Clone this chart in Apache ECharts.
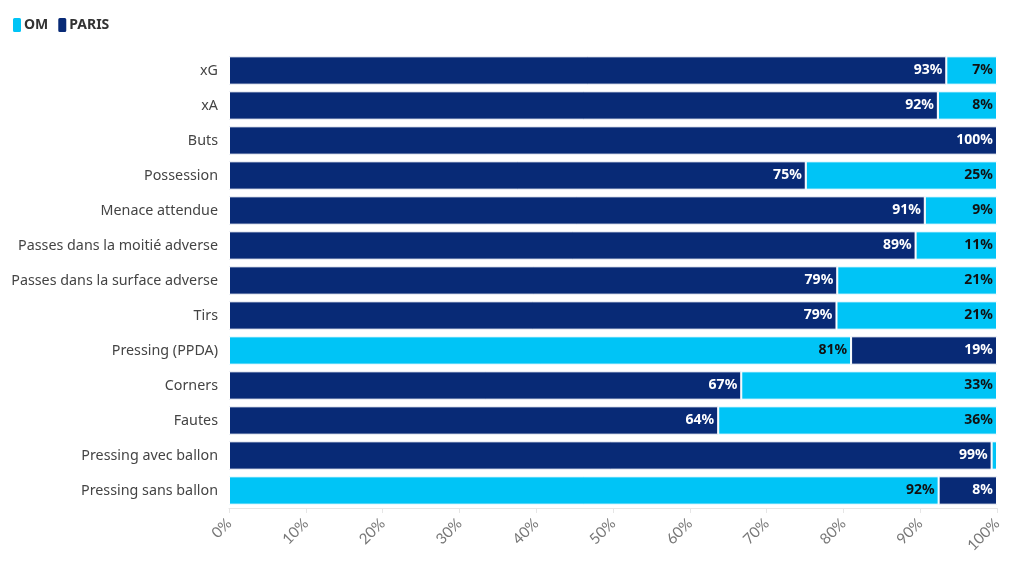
<!DOCTYPE html>
<html>
<head>
<meta charset="utf-8">
<script src="https://cdn.jsdelivr.net/npm/echarts@6/dist/echarts.min.js"></script>
<style>html,body{margin:0;padding:0;background:#fff}#c{width:1020px;height:569px}</style>
</head>
<body>
<div id="c"></div>
<script>
const categories = ["xG","xA","Buts","Possession","Menace attendue","Passes dans la moitié adverse","Passes dans la surface adverse","Tirs","Pressing (PPDA)","Corners","Fautes","Pressing avec ballon","Pressing sans ballon"];
// Which team's segment is on the left for each row
const leftTeam = ["PARIS","PARIS","PARIS","PARIS","PARIS","PARIS","PARIS","PARIS","OM","PARIS","PARIS","PARIS","OM"];
const parisValues = [93.4, 92.3, 100, 75.1, 90.6, 89.4, 79.2, 79.1, 19.0, 66.7, 63.7, 99.3, 7.6];
const omValues =    [6.6, 7.7, 0, 24.9, 9.4, 10.6, 20.8, 20.9, 81.0, 33.3, 36.3, 0.7, 92.4];
const xTicks = [0,10,20,30,40,50,60,70,80,90,100];

const NAVY = '#082a76', CYAN = '#00c4f6';
const pick = (team, side) => categories.map((c,i)=>{
  const isLeft = leftTeam[i] === team;
  const v = team === 'PARIS' ? parisValues[i] : omValues[i];
  return (side === 'left') === isLeft ? v : '-';
});
const lbl = (color) => ({
  show: true, position: 'insideRight', color: color, fontWeight: 'bold', fontSize: 14,
  fontFamily: 'Noto Sans', distance: 4,
  formatter: p => (typeof p.value === 'number' && p.value >= 3) ? Math.round(p.value) + '%' : ''
});
const mk = (name, side, color, txt) => ({
  name: name, type: 'bar', stack: 'total', barCategoryGap: '19%',
  data: pick(name, side),
  itemStyle: { color: color, borderColor: '#fff', borderWidth: 1 },
  label: lbl(txt), emphasis: { disabled: true }
});
const chart = echarts.init(document.getElementById('c'));
chart.setOption({
  animation: false,
  textStyle: { fontFamily: 'Noto Sans' },
  legend: {
    data: ['OM','PARIS'], left: 6, top: 11, icon: 'roundRect', itemWidth: 10, itemHeight: 16, itemGap: 8,
    textStyle: { fontWeight: 'bold', fontSize: 14, color: '#333', padding: [0,0,0,-3] }
  },
  grid: { left: 229, right: 23, top: 53, bottom: 61, containLabel: false },
  xAxis: {
    type: 'value', min: 0, max: 100, interval: 10,
    axisLine: { show: true, lineStyle: { color: '#e6e6e6' } },
    axisTick: { show: true, length: 5, lineStyle: { color: '#e6e6e6' } },
    splitLine: { show: false },
    axisLabel: { formatter: '{value}%', rotate: 45, color: '#777', fontSize: 15, fontFamily: 'Lato', margin: 13 }
  },
  yAxis: {
    type: 'category', data: categories, inverse: true,
    axisLine: { show: false }, axisTick: { show: false },
    axisLabel: { color: '#444', fontSize: 14.3, margin: 11 }
  },
  series: [
    mk('PARIS','left',NAVY,'#fff'),
    mk('OM','left',CYAN,'#111'),
    mk('OM','right',CYAN,'#111'),
    mk('PARIS','right',NAVY,'#fff')
  ]
});
</script>
</body>
</html>
